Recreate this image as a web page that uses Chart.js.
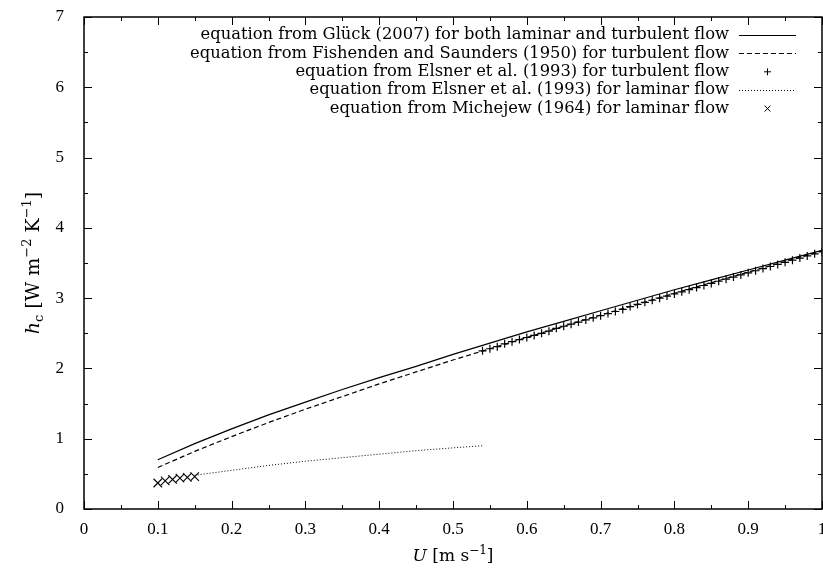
<!DOCTYPE html>
<html>
<head>
<meta charset="utf-8">
<script src="https://cdn.jsdelivr.net/npm/chart.js@4.4.1/dist/chart.umd.min.js"></script>
<style>
  html, body { margin: 0; padding: 0; background: #fff; }
  #wrap { width: 823px; height: 572px; }
</style>
</head>
<body>
<div id="wrap"><canvas id="chart" width="823" height="572"></canvas></div>
<script>
// values
const uLine = [0.10, 0.15, 0.20, 0.25, 0.30, 0.35, 0.40, 0.45, 0.50, 0.55,
               0.60, 0.65, 0.70, 0.75, 0.80, 0.85, 0.90, 0.95, 1.00];
const hGlueck = [0.70, 0.93, 1.14, 1.34, 1.52, 1.70, 1.87, 2.03, 2.20, 2.36,
                 2.52, 2.67, 2.82, 2.97, 3.12, 3.26, 3.40, 3.54, 3.68];
const hFishenden = [0.59, 0.82, 1.03, 1.23, 1.42, 1.60, 1.78, 1.95, 2.12, 2.28,
                    2.44, 2.60, 2.76, 2.91, 3.07, 3.22, 3.37, 3.52, 3.67];

const uElsnerTurb = [0.54, 0.55, 0.56, 0.57, 0.58, 0.59, 0.60, 0.61, 0.62, 0.63,
                     0.64, 0.65, 0.66, 0.67, 0.68, 0.69, 0.70, 0.71, 0.72, 0.73,
                     0.74, 0.75, 0.76, 0.77, 0.78, 0.79, 0.80, 0.81, 0.82, 0.83,
                     0.84, 0.85, 0.86, 0.87, 0.88, 0.89, 0.90, 0.91, 0.92, 0.93,
                     0.94, 0.95, 0.96, 0.97, 0.98, 0.99, 1.00];
const hElsnerTurb = [2.25, 2.28, 2.31, 2.35, 2.38, 2.41, 2.44, 2.47, 2.50, 2.53,
                     2.57, 2.60, 2.63, 2.66, 2.69, 2.72, 2.75, 2.78, 2.81, 2.84,
                     2.88, 2.91, 2.94, 2.97, 3.00, 3.03, 3.06, 3.09, 3.12, 3.15,
                     3.18, 3.21, 3.24, 3.27, 3.30, 3.33, 3.36, 3.39, 3.42, 3.45,
                     3.48, 3.51, 3.54, 3.57, 3.60, 3.63, 3.66];

const uElsnerLam = [0.15, 0.20, 0.25, 0.30, 0.35, 0.40, 0.45, 0.50, 0.54];
const hElsnerLam = [0.48, 0.55, 0.62, 0.68, 0.73, 0.78, 0.83, 0.87, 0.90];

const uMichejew = [0.10, 0.11, 0.12, 0.13, 0.14, 0.15];
const hMichejew = [0.37, 0.40, 0.42, 0.44, 0.45, 0.46];

const legendLabels = [
  'equation from Glück (2007) for both laminar and turbulent flow',
  'equation from Fishenden and Saunders (1950) for turbulent flow',
  'equation from Elsner et al. (1993) for turbulent flow',
  'equation from Elsner et al. (1993) for laminar flow',
  'equation from Michejew (1964) for laminar flow'
];

const SERIF = '"Liberation Serif", "DejaVu Serif", serif';
const WIDE = '"DejaVu Serif", serif';

function pts(xs, ys) {
  return xs.map((x, i) => ({ x: x, y: ys[i] }));
}

// draw a run of text pieces (for sub/superscripts), centred on 0,0
function drawRich(ctx, pieces) {
  let total = 0;
  pieces.forEach(p => { ctx.font = p.font; total += ctx.measureText(p.t).width; });
  let x = -total / 2;
  ctx.textBaseline = 'alphabetic';
  ctx.textAlign = 'left';
  pieces.forEach(p => {
    ctx.font = p.font;
    ctx.fillText(p.t, x, p.dy || 0);
    x += ctx.measureText(p.t).width;
  });
}

const gnuplotFrame = {
  id: 'gnuplotFrame',
  afterDraw(chart) {
    const ctx = chart.ctx;
    const a = chart.chartArea;
    const xs = chart.scales.x;
    const ys = chart.scales.y;
    ctx.save();
    ctx.strokeStyle = '#000';
    ctx.lineWidth = 1.5;
    ctx.strokeRect(a.left, a.top, a.right - a.left, a.bottom - a.top);

    // inward ticks on all four sides
    ctx.lineWidth = 1;
    ctx.beginPath();
    for (let i = 0; i <= 20; i++) {
      const v = i * 0.05;
      const px = Math.round(xs.getPixelForValue(v)) + 0.5;
      const len = i % 2 === 0 ? 8 : 4;
      ctx.moveTo(px, a.bottom); ctx.lineTo(px, a.bottom - len);
      ctx.moveTo(px, a.top); ctx.lineTo(px, a.top + len);
    }
    for (let i = 0; i <= 14; i++) {
      const v = i * 0.5;
      const py = Math.round(ys.getPixelForValue(v)) + 0.5;
      const len = i % 2 === 0 ? 8 : 4;
      ctx.moveTo(a.left, py); ctx.lineTo(a.left + len, py);
      ctx.moveTo(a.right, py); ctx.lineTo(a.right - len, py);
    }
    ctx.stroke();

    // legend, gnuplot style: text right aligned, sample on the right
    const textRight = 729, textLeft = 200, sL = 739, sR = 796, rowTop = 35, rowH = 18.4;
    ctx.font = '16px ' + WIDE;
    const fit = 16 * (textRight - textLeft) / ctx.measureText(legendLabels[0]).width;
    ctx.font = fit.toFixed(2) + 'px ' + WIDE;
    ctx.fillStyle = '#000';
    chart.data.datasets.forEach((ds, i) => {
      const y = rowTop + i * rowH;
      ctx.textAlign = 'right';
      ctx.textBaseline = 'middle';
      ctx.fillText(legendLabels[i], textRight, y);
      ctx.strokeStyle = '#000';
      ctx.lineWidth = 1;
      if (ds.showLine) {
        ctx.setLineDash(ds.borderDash || []);
        ctx.beginPath();
        ctx.moveTo(sL, Math.round(y) + 0.5);
        ctx.lineTo(sR, Math.round(y) + 0.5);
        ctx.stroke();
        ctx.setLineDash([]);
      } else {
        const cx = (sL + sR) / 2, r = 3.5;
        ctx.beginPath();
        if (ds.pointStyle === 'cross') {
          ctx.moveTo(cx - r, y); ctx.lineTo(cx + r, y);
          ctx.moveTo(cx, y - r); ctx.lineTo(cx, y + r);
        } else {
          const d = r * 0.85;
          ctx.moveTo(cx - d, y - d); ctx.lineTo(cx + d, y + d);
          ctx.moveTo(cx - d, y + d); ctx.lineTo(cx + d, y - d);
        }
        ctx.stroke();
      }
    });

    // axis titles
    const big = '17px ' + WIDE;
    const ital = 'italic 17px ' + WIDE;
    const small = '12px ' + WIDE;
    ctx.fillStyle = '#000';
    ctx.save();
    ctx.translate((a.left + a.right) / 2, 561);
    drawRich(ctx, [
      { t: 'U', font: ital },
      { t: ' [m s', font: big },
      { t: '\u22121', font: small, dy: -7 },
      { t: ']', font: big }
    ]);
    ctx.restore();

    ctx.save();
    ctx.translate(39, 263);
    ctx.rotate(-Math.PI / 2);
    drawRich(ctx, [
      { t: 'h', font: 'italic 19px ' + WIDE },
      { t: 'c', font: '13px ' + WIDE, dy: 4 },
      { t: ' [W m', font: '19px ' + WIDE },
      { t: '\u22122', font: '13px ' + WIDE, dy: -8 },
      { t: ' K', font: '19px ' + WIDE },
      { t: '\u22121', font: '13px ' + WIDE, dy: -8 },
      { t: ']', font: '19px ' + WIDE }
    ]);
    ctx.restore();
    ctx.restore();
  }
};

function drawChart() {
  new Chart(document.getElementById('chart'), {
    type: 'scatter',
    data: {
      datasets: [
        {
          label: legendLabels[0],
          data: pts(uLine, hGlueck),
          showLine: true,
          borderColor: '#000',
          borderWidth: 1.2,
          pointRadius: 0
        },
        {
          label: legendLabels[1],
          data: pts(uLine, hFishenden),
          showLine: true,
          borderColor: '#000',
          borderWidth: 1.2,
          borderDash: [5, 3],
          pointRadius: 0
        },
        {
          label: legendLabels[2],
          data: pts(uElsnerTurb, hElsnerTurb),
          showLine: false,
          pointStyle: 'cross',
          pointRadius: 4,
          borderColor: '#000',
          borderWidth: 1.2,
          backgroundColor: '#000'
        },
        {
          label: legendLabels[3],
          data: pts(uElsnerLam, hElsnerLam),
          showLine: true,
          borderColor: '#000',
          borderWidth: 1,
          borderDash: [1, 2],
          pointRadius: 0
        },
        {
          label: legendLabels[4],
          data: pts(uMichejew, hMichejew),
          showLine: false,
          pointStyle: 'crossRot',
          pointRadius: 6,
          borderColor: '#000',
          borderWidth: 1.1,
          backgroundColor: '#000'
        }
      ]
    },
    options: {
      responsive: false,
      animation: false,
      layout: { autoPadding: false, padding: { top: 17, right: 1, left: 0, bottom: 0 } },
      plugins: {
        legend: { display: false },
        tooltip: { enabled: false }
      },
      scales: {
        x: {
          type: 'linear',
          min: 0,
          max: 1,
          grid: { display: false },
          border: { display: false },
          ticks: {
            stepSize: 0.1,
            color: '#000',
            padding: 2,
            maxRotation: 0,
            autoSkip: false,
            font: { family: SERIF, size: 17 },
            callback: v => String(Number(v.toFixed(2)))
          },
          afterFit(scale) {
            scale.height = 63;
            scale.paddingLeft = 0;
            scale.paddingRight = 0;
          }
        },
        y: {
          type: 'linear',
          min: 0,
          max: 7,
          grid: { display: false },
          border: { display: false },
          ticks: {
            stepSize: 1,
            color: '#000',
            padding: 12,
            font: { family: SERIF, size: 17 }
          },
          afterFit(scale) {
            scale.width = 84;
            scale.paddingTop = 0;
            scale.paddingBottom = 0;
          }
        }
      }
    },
    plugins: [gnuplotFrame]
  });
}

Promise.all([
  document.fonts.load('17px "Liberation Serif"'),
  document.fonts.load('17px "DejaVu Serif"'),
  document.fonts.load('italic 17px "DejaVu Serif"')
]).then(drawChart, drawChart);
</script>
</body>
</html>
